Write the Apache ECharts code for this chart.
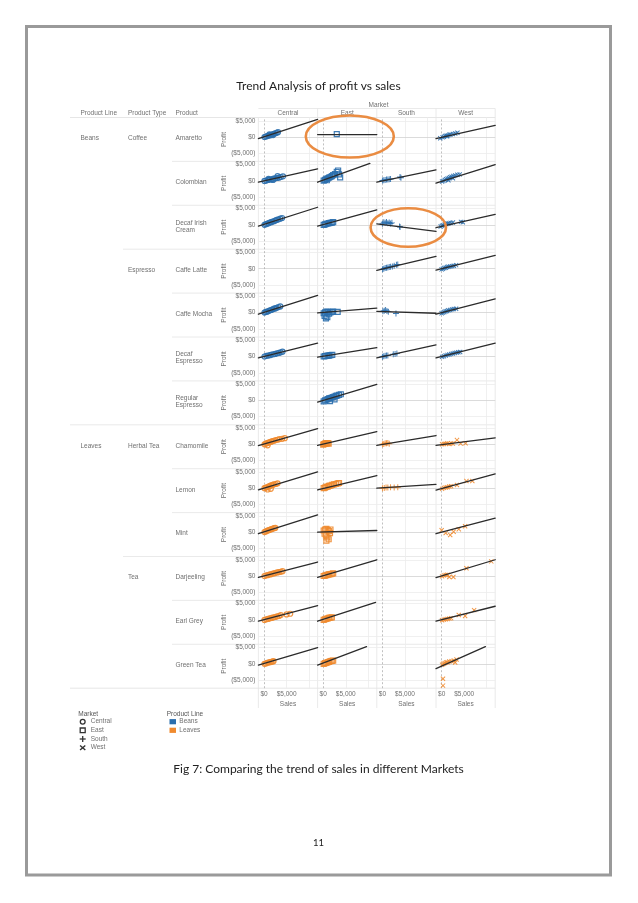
<!DOCTYPE html>
<html><head><meta charset="utf-8">
<script src="https://cdn.jsdelivr.net/npm/echarts@6/dist/echarts.min.js"></script>
<style>html,body{margin:0;padding:0;background:#fff}#c{width:638px;height:903px}</style>
</head><body><div id="c"></div>
<script>
// ---------------- DATA ----------------
const products = ['Amaretto','Colombian','Decaf Irish\nCream','Caffe Latte','Caffe Mocha','Decaf\nEspresso','Regular\nEspresso','Chamomile','Lemon','Mint','Darjeeling','Earl Grey','Green Tea'];
const productLines = [{name:'Beans', row:0}, {name:'Leaves', row:7}];
const productTypes = [{name:'Coffee', row:0}, {name:'Espresso', row:3}, {name:'Herbal Tea', row:7}, {name:'Tea', row:10}];
const rowLine = ['Beans','Beans','Beans','Beans','Beans','Beans','Beans','Leaves','Leaves','Leaves','Leaves','Leaves','Leaves'];
const markets = ['Central','East','South','West'];
const salesTicks = {0:'$0', 5000:'$5,000'};
const profitTicks = {5000:'$5,000', 0:'$0', '-5000':'($5,000)'};

const centralPoints = [
 [[100,0],[400,150],[700,300],[1000,450],[1300,500],[1600,700],[1900,850],[2200,1000],[2500,1150],[2800,1300],[3100,1500],[1200,800],[2000,600]],
 [[100,0],[500,100],[900,300],[1300,400],[1700,500],[2100,700],[2500,800],[2900,900],[3300,1000],[3700,1200],[4200,1400],[1000,600],[2000,300],[3000,1500]],
 [[100,0],[400,200],[700,300],[1000,500],[1300,700],[1600,800],[1900,1000],[2200,1100],[2500,1300],[2800,1500],[3200,1700],[3600,1900],[4000,2100]],
 null,
 [[100,0],[400,200],[700,300],[1000,500],[1300,700],[1600,800],[1900,1000],[2200,1200],[2500,1300],[2800,1500],[3200,1700],[3600,1900]],
 [[100,0],[500,200],[900,300],[1300,400],[1700,600],[2100,700],[2500,800],[2900,1000],[3300,1100],[3700,1300],[4100,1500]],
 null,
 [[100,0],[400,200],[700,400],[1000,500],[1300,700],[1600,800],[1900,1000],[2200,1100],[2600,1300],[3000,1400],[3400,1600],[4000,1700],[4600,1900],[800,-300]],
 [[100,0],[400,200],[700,300],[1000,500],[1300,700],[1600,900],[1900,1000],[2200,1200],[2600,1300],[3000,1500],[800,-400],[1500,-200]],
 [[100,0],[400,200],[700,400],[1000,600],[1300,700],[1600,900],[1900,1000],[2200,1200],[2500,1300]],
 [[100,0],[500,200],[900,300],[1300,500],[1700,600],[2100,800],[2500,900],[2900,1100],[3300,1200],[3700,1300],[4100,1500]],
 [[100,0],[500,200],[900,300],[1300,500],[1700,600],[2100,800],[2500,900],[2900,1100],[3300,1200],[3700,1500],[5000,1700],[5800,1900]],
 [[100,0],[400,100],[700,300],[1000,400],[1300,500],[1600,600],[1900,700],[2100,800]]
];
const eastPoints = [
 [[3000,900]],
 [[100,100],[400,300],[700,600],[1000,800],[1300,1000],[1600,1200],[1900,1500],[2200,1800],[2600,2100],[3000,2800],[3300,3200],[3500,2000],[3750,1100],[800,200]],
 [[100,0],[400,150],[700,300],[1000,400],[1300,500],[1600,600],[1900,700],[2200,800]],
 null,
 [[100,-200],[400,100],[700,300],[1000,200],[1300,-300],[1600,100],[1900,200],[300,-1000],[600,-1800],[900,-1400],[2200,300],[3200,200]],
 [[100,0],[400,100],[700,200],[1000,300],[1300,300],[1600,400],[2000,500]],
 [[100,-300],[400,0],[700,200],[1000,400],[1300,600],[1600,700],[1900,900],[2200,1000],[2500,1200],[2800,1400],[3100,1500],[3500,1700],[3900,1900],[1500,-200],[2500,300]],
 [[0,-100],[200,100],[400,200],[600,300],[800,300],[1000,400],[1200,200]],
 [[100,0],[400,200],[700,400],[1000,500],[1300,700],[1600,800],[2000,1000],[2400,1200],[2800,1300],[3200,1500],[3500,1600]],
 [[100,500],[400,800],[700,1000],[1000,600],[1300,300],[1600,800],[300,-500],[600,-1000],[900,-1600],[1200,-2200],[700,-2600],[1500,-300]],
 [[100,0],[400,100],[700,300],[1000,400],[1300,500],[1600,600],[1900,700],[2200,800]],
 [[100,0],[400,200],[700,300],[1000,500],[1300,600],[1600,700],[1900,800]],
 [[100,0],[400,200],[700,300],[1000,500],[1300,600],[1600,800],[1900,900],[2200,1000]]
];
const southPoints = [
 null,
 [[0,100],[300,200],[600,300],[900,400],[1200,400],[1500,500],[1800,600],[3900,1200],[4100,1000]],
 [[0,300],[300,800],[600,600],[900,900],[1200,500],[1500,700],[1800,400],[2100,600],[3800,-500],[3900,-700]],
 [[0,-200],[300,0],[600,200],[900,300],[1200,400],[1500,500],[1800,600],[2200,700],[2600,900],[3100,1200],[3400,1300]],
 [[100,400],[400,600],[700,800],[1000,500],[1300,300],[3000,-300]],
 [[0,-100],[300,100],[600,200],[900,300],[1200,300],[2400,700],[2800,800],[3200,900]],
 null,
 [[0,0],[300,100],[600,300],[900,300],[1200,400],[1500,200]],
 [[0,0],[400,100],[800,200],[1200,200],[1800,300],[2600,200],[3400,300]],
 null, null, null, null
];
const westPoints = [
 [[-300,-400],[200,-100],[500,100],[800,300],[1100,400],[1400,500],[1700,700],[2000,800],[2500,900],[3000,1100],[3500,1300],[1200,200]],
 [[100,-200],[400,0],[700,300],[1000,500],[1300,700],[1600,900],[1900,1100],[2200,1300],[2600,1500],[3000,1700],[3500,1900],[4000,2000],[1500,200],[2500,800]],
 [[-200,-500],[100,-300],[400,-100],[700,100],[1000,200],[1300,400],[1600,500],[2000,600],[2500,700],[4300,900],[4700,800]],
 [[0,-200],[300,0],[600,200],[900,300],[1200,500],[1500,600],[1900,700],[2300,800],[2700,900],[3200,1100]],
 [[0,-200],[300,0],[600,200],[900,400],[1200,500],[1500,700],[1900,800],[2300,1000],[2700,1100],[3200,1200]],
 [[100,-100],[500,100],[900,300],[1300,500],[1700,600],[2100,800],[2500,900],[2900,1100],[3300,1200],[3700,1300],[4100,1400]],
 null,
 [[100,0],[500,100],[900,200],[1300,300],[1700,100],[2100,300],[2500,200],[3400,1300],[4200,200],[5300,300]],
 [[100,-200],[500,100],[900,200],[1300,300],[1700,500],[2100,600],[3400,1000],[5500,2200],[6800,2200]],
 [[0,600],[900,-300],[1900,-900],[2650,100],[3800,900],[5200,1800]],
 [[100,-100],[500,200],[900,300],[1300,400],[1700,-300],[2600,-300],[5500,2400],[11000,4500]],
 [[100,-100],[500,100],[900,200],[1300,300],[1700,400],[2100,500],[3800,1500],[5200,1200],[7200,3000]],
 [[100,-300],[400,0],[700,200],[1000,400],[1300,500],[1700,700],[2200,800],[2700,1000],[3300,1300],[3000,400],[300,-4600],[300,-6700]]
];
// trend lines: [sales0, profit0, sales1, profit1]
const centralTrend = [
 [-1250,-500,11875,5400],[-1250,-400,11875,3700],[-1250,-400,11875,5400],null,
 [-1250,-500,11875,5300],[-1250,-400,11875,4100],null,[-1250,-400,11875,4800],
 [-1250,-500,11875,5000],[-1250,-500,11875,5300],[-1250,-400,11875,4300],[-1250,-400,11875,4400],[-1250,-400,11875,5000]
];
const eastTrend = [
 [-1250,750,11875,750],[-1250,-400,10350,5400],[-1250,-400,11875,4600],null,
 [-1250,-100,11875,1400],[-1250,-200,11875,2700],[-1250,-500,11875,4900],[-1250,-300,11875,3900],
 [-1250,-500,11875,3900],[-1250,0,11875,500],[-1250,-400,11875,5000],[-1250,-400,11600,5400],[-1250,-400,9600,5300]
];
const southTrend = [
 null,[-1250,-400,11875,3400],[-1250,300,11875,-2000],[-1250,-500,11875,3800],
 [-1250,400,11875,-200],[-1250,-400,11875,3600],null,[-1250,-300,11875,2700],
 [-1250,0,11875,1200],null,null,null,null
];
const westTrend = [
 [-1250,-500,11875,3600],[-1250,-700,11875,5000],[-1250,-900,11875,3200],[-1250,-400,11875,4100],
 [-1250,-500,11875,4200],[-1250,-400,11875,4100],null,[-1250,-300,11875,2000],
 [-1250,-600,11875,4400],[-1250,-500,11875,4300],[-1250,-500,11875,5000],[-1250,-400,11875,4200],[-1250,-1500,9700,5300]
];
const pointsByMarket = [centralPoints, eastPoints, southPoints, westPoints];
const trendByMarket = [centralTrend, eastTrend, southTrend, westTrend];

// ---------------- LAYOUT / STYLE ----------------
const GX = 258.4, GW = 59.2, GY = 117.5, GH = 43.9;
const XMIN = -1250, XMAX = 11875, YMIN = -7500, YMAX = 6000;
const lineColors = {Beans:'#2a6ead', Leaves:'#f08a2e'};
const txt = '#707070';
const FONT = 'Liberation Sans';
const plusPath = 'path://M4.2,0H5.8V4.2H10V5.8H5.8V10H4.2V5.8H0V4.2H4.2Z';
const marketSymbol = [
  {symbol:'circle', size:5, hollow:true, rot:0},
  {symbol:'rect', size:5, hollow:true, rot:0},
  {symbol:plusPath, size:6, hollow:false, rot:0},
  {symbol:plusPath, size:6, hollow:false, rot:45}
];

const grids = [], xAxes = [], yAxes = [], series = [];
const gridLineStyle = {color:'#ececec', width:0.8, type:'solid'};
for (let r = 0; r < products.length; r++) {
  for (let c = 0; c < markets.length; c++) {
    const gi = grids.length;
    grids.push({left: GX + c*GW, top: GY + r*GH, width: GW, height: GH, containLabel:false});
    xAxes.push({
      gridIndex: gi, type:'value', min:XMIN, max:XMAX, interval:1250,
      axisLine:{show:false}, axisTick:{show:false}, splitLine:{show:false},
      axisLabel:{show: r === products.length-1, fontSize:6.5, color:txt, fontFamily:FONT, margin:3,
        formatter: v => salesTicks[v] || ''},
      name: r === products.length-1 ? 'Sales' : '', nameLocation:'middle', nameGap:13,
      nameTextStyle:{fontSize:6.5, color:txt, fontFamily:FONT}
    });
    yAxes.push({
      gridIndex: gi, type:'value', min:YMIN, max:YMAX, interval:2500,
      axisLine:{show:false}, axisTick:{show:false}, splitLine:{show:false},
      axisLabel:{show: c === 0, fontSize:6.5, color:txt, fontFamily:FONT, margin:3,
        formatter: v => profitTicks[String(v)] || ''},
      name: c === 0 ? 'Profit' : '', nameLocation:'middle', nameRotate:90, nameGap:23,
      nameTextStyle:{fontSize:6.5, color:txt, fontFamily:FONT}
    });
    // gridlines host (drawn beneath the marks)
    series.push({
      type:'line', xAxisIndex:gi, yAxisIndex:gi, data:[], silent:true, z:1,
      markLine:{silent:true, z:1, symbol:['none','none'], label:{show:false}, animation:false,
        data:[
          {yAxis:5000, lineStyle:gridLineStyle},
          {yAxis:-5000, lineStyle:gridLineStyle},
          {xAxis:5000, lineStyle:gridLineStyle},
          {xAxis:10000, lineStyle:gridLineStyle},
          {yAxis:0, lineStyle:{color:'#d2d2d2', width:0.8, type:'solid'}},
          {xAxis:0, lineStyle:{color:'#b0b0b0', width:0.8, type:[2,2]}}
        ]}
    });
    const pts = pointsByMarket[c][r];
    const col = lineColors[rowLine[r]];
    const ms = marketSymbol[c];
    if (pts) {
      series.push({
        type:'scatter', xAxisIndex:gi, yAxisIndex:gi, data:pts,
        symbol: ms.symbol, symbolSize: ms.size, symbolRotate: ms.rot,
        itemStyle: ms.hollow ? {color:'rgba(0,0,0,0)', borderColor:col, borderWidth:1.2, opacity:0.9}
                             : {color:col, opacity:0.9},
        z:6
      });
    }
    const t = trendByMarket[c][r];
    if (t) {
      series.push({
        type:'line', xAxisIndex:gi, yAxisIndex:gi, data:[[t[0],t[1]],[t[2],t[3]]],
        symbol:'none', showSymbol:false, lineStyle:{color:'#2b2b2b', width:1.3, type:'solid', cap:'round'},
        clip:true, z:7, silent:true
      });
    }
  }
}

// ---------------- GRAPHICS (page, headers, legend) ----------------
const G = [];
const T = (x, y, text, o) => G.push({type:'text', x, y, style:Object.assign({text, fill:txt, fontSize:6.5, fontFamily:FONT, textAlign:'left', textVerticalAlign:'middle'}, (o||{}))});
const L = (x1, y1, x2, y2, stroke, w) => G.push({type:'line', shape:{x1,y1,x2,y2}, style:{stroke, lineWidth:w||0.8}, silent:true});

// page border
G.push({type:'rect', shape:{x:26.5, y:26.5, width:584, height:848.5}, style:{fill:'none', stroke:'#9a9a9a', lineWidth:3}});
T(318.5, 86, 'Trend Analysis of profit vs sales', {fill:'#222', fontSize:12, fontFamily:'Lato', textAlign:'center'});
T(318.5, 769, 'Fig 7: Comparing the trend of sales in different Markets', {fill:'#222', fontSize:12, fontFamily:'Lato', textAlign:'center'});
T(318.5, 843, '11', {fill:'#222', fontSize:9.5, fontFamily:'Lato', textAlign:'center'});

// header
T(378.5, 105, 'Market', {textAlign:'center'});
T(80.5, 113.5, 'Product Line');
T(128, 113.5, 'Product Type');
T(175.5, 113.5, 'Product');
markets.forEach((m, c) => T(GX + c*GW + GW/2, 113.5, m, {textAlign:'center'}));
L(GX, 108.5, GX + 4*GW, 108.5, '#e4e4e4');
L(70, GY, GX + 4*GW, GY, '#e0e0e0');
const bottomY = GY + products.length*GH;
L(70, bottomY, GX + 4*GW, bottomY, '#e0e0e0');
for (let c = 0; c <= 4; c++) L(GX + c*GW, c === 0 ? GY : 108.5, GX + c*GW, 708, '#e4e4e4');

// row separators and labels
const zeroOff = GH * YMAX / (YMAX - YMIN);
for (let r = 1; r < products.length; r++) {
  const y = GY + r*GH;
  let x0 = 172;
  if (productTypes.some(p => p.row === r)) x0 = 123;
  if (productLines.some(p => p.row === r)) x0 = 70;
  L(x0, y, GX + 4*GW, y, '#e4e4e4');
}
products.forEach((p, r) => T(175.5, GY + r*GH + zeroOff + 1.5, p, {lineHeight:7}));
productTypes.forEach(p => T(128, GY + p.row*GH + zeroOff + 1.5, p.name));
productLines.forEach(p => T(80.5, GY + p.row*GH + zeroOff + 1.5, p.name));

// orange annotation ellipses
G.push({type:'ellipse', shape:{cx:349.8, cy:136.5, rx:44, ry:21}, style:{fill:'none', stroke:'#ea8c42', lineWidth:2.6}, z:10});
G.push({type:'ellipse', shape:{cx:408.3, cy:227.5, rx:37.7, ry:19.2}, style:{fill:'none', stroke:'#ea8c42', lineWidth:2.6}, z:10});

// legend
T(78.3, 714, 'Market', {fill:'#555'});
const lx = 82.7, ly = [721.7, 730.3, 739, 747.7];
G.push({type:'circle', shape:{cx:lx, cy:ly[0], r:2.4}, style:{fill:'none', stroke:'#333', lineWidth:1.3}});
G.push({type:'rect', shape:{x:lx-2.5, y:ly[1]-2.3, width:5, height:4.6}, style:{fill:'none', stroke:'#333', lineWidth:1.3}});
L(lx-3, ly[2], lx+3, ly[2], '#333', 1.3); L(lx, ly[2]-3, lx, ly[2]+3, '#333', 1.3);
L(lx-2.6, ly[3]-2.3, lx+2.6, ly[3]+2.3, '#333', 1.4); L(lx-2.6, ly[3]+2.3, lx+2.6, ly[3]-2.3, '#333', 1.4);
markets.forEach((m, i) => T(90.7, ly[i], m));
T(166.7, 714, 'Product Line', {fill:'#555'});
G.push({type:'rect', shape:{x:169.5, y:ly[0]-2.6, width:6.5, height:5.2}, style:{fill:lineColors.Beans}});
G.push({type:'rect', shape:{x:169.5, y:ly[1]-2.6, width:6.5, height:5.2}, style:{fill:lineColors.Leaves}});
T(179.3, ly[0], 'Beans');
T(179.3, ly[1], 'Leaves');

const chart = echarts.init(document.getElementById('c'), null, {renderer:'canvas'});
chart.setOption({
  animation:false,
  backgroundColor:'#fff',
  grid: grids, xAxis: xAxes, yAxis: yAxes, series: series,
  graphic: {elements: G}
});
</script></body></html>
